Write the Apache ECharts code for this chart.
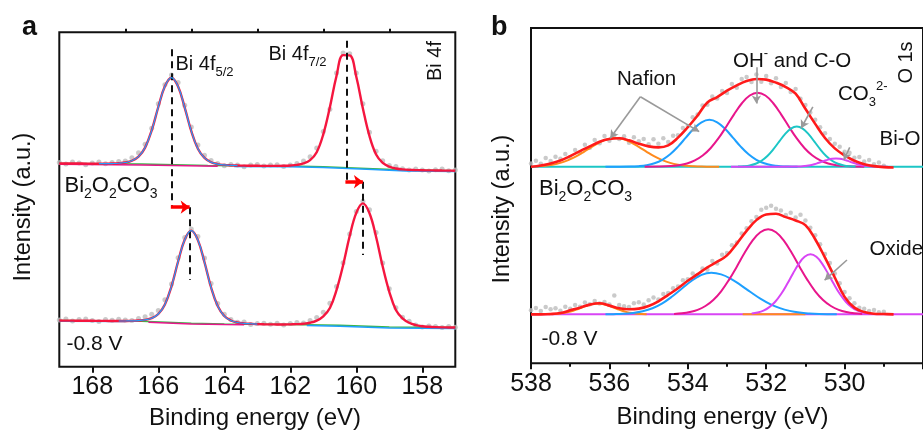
<!DOCTYPE html>
<html>
<head>
<meta charset="utf-8">
<script src="https://cdn.jsdelivr.net/npm/echarts@6/dist/echarts.min.js"></script>
<style>
  html, body { margin: 0; padding: 0; background: #fff; }
  #chart { width: 923px; height: 436px; }
</style>
</head>
<body>
<div id="chart"></div>
<script>
// ---------------- Panel a: Bi 4f ----------------
// binding energy grid (eV)
const bi4fEnergy = [169.0,168.8,168.6,168.4,168.2,168.0,167.8,167.6,167.4,167.2,167.0,166.8,166.6,166.4,166.2,166.0,165.8,165.6,165.4,165.2,165.0,164.8,164.6,164.4,164.2,164.0,163.8,163.6,163.4,163.2,163.0,162.8,162.6,162.4,162.2,162.0,161.8,161.6,161.4,161.2,161.0,160.8,160.6,160.4,160.2,160.0,159.8,159.6,159.4,159.2,159.0,158.8,158.6,158.4,158.2,158.0,157.8,157.6,157.4,157.2,157.0];
// fitted envelopes (offset intensity, a.u.)
const bi4fFitCarbonate = [60.8,60.78,60.77,60.75,60.74,60.72,60.70,60.72,60.75,60.84,61.06,61.58,62.82,65.52,70.68,77.66,83.86,86.42,83.78,77.50,70.44,65.20,62.43,61.15,60.60,60.34,60.22,60.16,60.12,60.10,60.08,60.06,60.05,60.06,60.09,60.17,60.34,60.78,61.78,64.14,69.50,77.62,86.94,93.16,93.08,86.70,77.22,68.94,63.46,60.94,59.82,59.26,59.01,58.86,58.79,58.73,58.71,58.68,58.65,58.63,58.60];
const bi4fFitReduced = [13.80,13.78,13.77,13.75,13.74,13.72,13.70,13.69,13.67,13.66,13.67,13.70,13.80,14.00,14.50,15.75,18.62,24.04,31.46,37.98,40.70,37.86,31.22,23.68,18.14,15.15,13.81,13.22,12.96,12.84,12.73,12.68,12.66,12.64,12.62,12.67,12.72,12.84,13.14,13.79,15.07,17.54,22.91,30.34,39.07,46.00,48.84,45.87,38.80,29.94,22.40,16.98,14.46,13.14,12.44,12.09,11.93,11.83,11.77,11.74,11.71];
// measured counts
const bi4fRawCarbonate = [61.1,60.6,61.2,60.9,60.4,60.9,61.2,60.7,61.1,61.4,61.5,62.5,64.0,66.5,71.3,78.6,84.3,87.2,85.0,78.2,71.7,66.3,63.2,61.7,60.8,60.1,60.5,60.3,59.8,60.3,60.5,60.0,60.3,60.4,59.9,60.3,60.8,61.5,62.8,65.4,70.3,77.0,87.8,93.8,93.6,87.8,78.6,70.1,64.4,61.6,60.2,59.9,59.2,58.8,59.1,58.8,58.5,58.9,59.1,58.6,58.8];
const bi4fRawReduced = [14.0,14.3,13.7,14.1,14.3,13.8,13.5,14.1,13.9,14.2,14.0,13.8,14.4,14.9,15.7,16.8,20.0,24.7,32.6,38.6,41.2,38.9,32.5,24.9,18.9,15.7,14.1,13.3,13.4,12.6,12.9,13.0,12.7,13.0,12.5,12.9,13.2,13.1,13.8,14.7,16.3,19.0,24.0,31.1,39.7,46.4,49.5,46.9,40.1,31.0,23.3,17.6,14.8,13.6,12.5,11.9,12.2,12.0,11.7,12.0,11.8];
// Shirley backgrounds
const bi4fBgCarbonateEnergy = [169, 166.5, 164.5, 162, 161, 159.5, 158.5, 157];
const bi4fBgCarbonate = [60.8, 60.6, 60.2, 60.0, 59.8, 59.2, 58.8, 58.6];
const bi4fBgReducedEnergy = [169, 166.5, 165, 164, 162, 160.5, 159, 157];
const bi4fBgReduced = [13.8, 13.6, 13.0, 12.8, 12.6, 12.4, 11.9, 11.7];
const bi4fEdgeTopPinkEnergy = [169, 166.5, 164.2];
const bi4fEdgeTopPink = [60.55, 60.3, 59.95];
const bi4fEdgeTopCyanEnergy = [163.7, 162, 161, 159.5, 158.5, 157];
const bi4fEdgeTopCyan = [59.9, 59.8, 59.55, 58.95, 58.55, 58.4];
const bi4fEdgeBotCyanEnergy = [169, 167];
const bi4fEdgeBotCyan = [13.6, 13.5];
const bi4fEdgeBotPinkEnergy = [166.3, 165, 164, 163.4];
const bi4fEdgeBotPink = [13.3, 12.8, 12.6, 12.55];
const bi4fEdgeBotCyan2Energy = [161.5, 160.5, 159, 157];
const bi4fEdgeBotCyan2 = [12.3, 12.1, 11.6, 11.4];
// peak position guides and shift arrows
const guideEnergy = [165.6, 165.05, 160.3, 159.8];
const guideFrom = [94.9, 47.7, 97.5, 55.3];
const guideTo = [47.7, 25.9, 55.3, 33.4];
const shiftStart = [165.62, 160.33];
const shiftEnd = [165.05, 159.8];
const shiftLevel = [47.7, 55.3];
const bi4fTickValues = [158, 160, 162, 164, 166, 168];
const bi4fMinorTickValues = [159, 161, 163, 165, 167];

// ---------------- Panel b: O 1s ----------------
const o1sEnergy = [538,537.75,537.5,537.25,537,536.75,536.5,536.25,536,535.75,535.5,535.25,535,534.75,534.5,534.25,534,533.75,533.5,533.25,533,532.75,532.5,532.25,532,531.75,531.5,531.25,531,530.75,530.5,530.25,530,529.75,529.5,529.25,529,528.75];
const o1sFitCarbonate = [58.6,59.0,59.6,60.5,61.8,63.3,64.7,66.1,66.9,67.1,66.5,65.5,64.7,64.4,65.0,67.3,70.4,73.9,77.8,79.4,81.3,82.9,84.2,84.8,84.6,83.7,82.4,80.4,75.9,71.4,67.2,64.1,62.0,60.4,59.4,58.8,58.5,58.4];
const o1sFitReduced = [14.6,14.6,14.7,15.0,15.8,16.6,17.5,17.9,17.2,16.4,16.1,16.3,17.1,18.5,20.4,22.4,24.6,26.6,28.6,30.3,32.2,35.7,39.5,42.7,44.4,44.6,43.6,42.6,41.2,37.0,31.5,25.6,19.8,16.6,15.3,14.8,14.7,14.6];
const o1sRawEnergy = [538,537.875,537.75,537.625,537.5,537.375,537.25,537.125,537,536.875,536.75,536.625,536.5,536.375,536.25,536.125,536,535.875,535.75,535.625,535.5,535.375,535.25,535.125,535,534.875,534.75,534.625,534.5,534.375,534.25,534.125,534,533.875,533.75,533.625,533.5,533.375,533.25,533.125,533,532.875,532.75,532.625,532.5,532.375,532.25,532.125,532,531.875,531.75,531.625,531.5,531.375,531.25,531.125,531,530.875,530.75,530.625,530.5,530.375,530.25,530.125,530,529.875,529.75,529.625,529.5,529.375,529.25,529.125,529];
const o1sRawCarbonate = [59.6,60.4,59.5,61.2,60.3,61.6,61.0,62.4,61.5,63.6,62.9,65.2,64.3,66.6,65.6,67.8,66.4,68.1,66.9,67.7,65.8,67.4,66.2,66.9,65.3,66.8,65.5,67.1,66.0,67.9,68.0,70.2,70.8,73.4,74.2,76.9,77.1,79.6,79.0,81.2,80.6,83.3,82.2,84.8,85.4,83.9,86.1,84.0,85.7,83.5,85.0,82.4,83.6,80.9,81.8,78.9,77.0,74.8,72.6,70.4,68.6,66.9,65.5,64.6,63.1,62.8,61.3,61.5,60.2,60.6,59.4,59.9,58.9];
const o1sRawReduced = [15.8,16.5,15.6,16.8,16.1,16.4,15.7,16.9,16.3,17.4,16.9,18.1,17.6,18.6,17.8,18.3,17.5,20.2,17.4,17.0,16.8,17.9,18.2,17.5,18.8,19.6,19.0,20.7,21.0,22.4,22.9,24.8,25.1,26.8,26.2,28.3,27.9,30.5,29.8,32.4,32.9,35.2,36.0,38.7,40.3,42.4,43.6,45.8,46.4,47.0,46.1,45.6,44.2,44.9,43.5,44.3,42.6,40.4,38.2,35.5,32.6,29.9,26.8,23.9,21.3,19.4,17.9,16.6,16.3,15.6,15.9,15.2,15.4];
const o1sBgEnergy = [538, 528];
const o1sBgCarbonate = [58.6, 58.6];
const o1sBgReduced = [14.6, 14.6];

// fitted components, Bi2O2CO3
const nafionAEnergy = [537.85,537.65,537.45,537.25,537.05,536.85,536.65,536.45,536.25,536.05,535.85,535.65,535.45,535.25,535.05,534.85,534.65,534.45,534.25,534.05,533.85,533.65,533.45,533.2];
const nafionA = [58.75,58.92,59.24,59.77,60.59,61.7,63.08,64.56,65.91,66.86,67.2,66.86,65.91,64.56,63.08,61.7,60.59,59.77,59.24,58.92,58.75,58.66,58.63,58.6];
const nafionBEnergy = [536.1,535.45,535.25,535.05,534.85,534.65,534.45,534.25,534.05,533.85,533.65,533.45,533.25,533.05,532.85,532.65,532.45,532.25,532.05,531.85,531.65,531.45,531.2];
const nafionB = [58.6,58.67,58.8,59.08,59.65,60.69,62.34,64.62,67.31,69.94,71.87,72.6,71.87,69.94,67.31,64.62,62.34,60.69,59.65,59.08,58.8,58.67,58.6];
const hydroxylEnergy = [535.1,534.42,534.22,534.02,533.82,533.62,533.42,533.22,533.02,532.82,532.62,532.42,532.22,532.02,531.82,531.62,531.42,531.22,531.02,530.82,530.62,530.42,530.22,530.02,529.5];
const hydroxyl = [58.6,58.81,59.09,59.59,60.5,61.96,64.15,67.06,70.56,74.25,77.56,79.86,80.7,79.86,77.56,74.25,70.56,67.06,64.15,61.96,60.5,59.59,59.09,58.81,58.6];
const carbonateEnergy = [532.72,532.57,532.42,532.27,532.12,531.97,531.82,531.67,531.52,531.37,531.22,531.07,530.92,530.77,530.62,530.47,530.32,530.17,530.02,529.87,529.72];
const carbonate = [58.67,58.78,59.02,59.52,60.42,61.84,63.81,66.1,68.34,69.99,70.6,69.99,68.34,66.1,63.81,61.84,60.42,59.52,59.02,58.78,58.67];
const biOEnergy = [532.9,531.22,531.12,531.02,530.92,530.82,530.72,530.62,530.52,530.42,530.32,530.22,530.12,530.02,529.92,529.82,529.72,529.62,529.52,529.42,529.32,529.22,528.9];
const biO = [58.6,58.66,58.71,58.82,58.98,59.23,59.56,59.95,60.37,60.75,61.01,61.1,61.01,60.75,60.37,59.95,59.56,59.23,58.98,58.82,58.71,58.66,58.6];

// fitted components, -0.8 V
const nafionCEnergy = [537.55,537.425,537.3,537.175,537.05,536.925,536.8,536.675,536.55,536.425,536.3,536.175,536.05,535.925,535.8,535.675,535.55,535.425,535.3,535.175,535.05];
const nafionC = [14.64,14.7,14.8,14.98,15.27,15.68,16.2,16.77,17.29,17.67,17.8,17.67,17.29,16.77,16.2,15.68,15.27,14.98,14.8,14.7,14.64];
const nafionDEnergy = [536.1,535.9,535.65,535.4,535.15,534.9,534.65,534.4,534.15,533.9,533.65,533.4,533.15,532.9,532.65,532.4,532.15,531.9,531.65,531.4,531.15,530.9,530.65,530.2];
const nafionD = [14.6,14.66,14.77,15.02,15.52,16.42,17.87,19.91,22.29,24.62,26.36,27.0,26.52,25.2,23.32,21.25,19.29,17.66,16.45,15.63,15.13,14.86,14.71,14.6];
const hydroxylREnergy = [534.35,534.15,533.95,533.75,533.55,533.35,533.15,532.95,532.75,532.55,532.35,532.15,531.95,531.75,531.55,531.35,531.15,530.95,530.75,530.55,530.35,530.15,529.95,529.75,529.55];
const hydroxylR = [14.74,14.92,15.29,15.95,17.09,18.89,21.48,24.89,28.82,32.94,36.57,39.09,40.0,39.09,36.57,32.94,28.82,24.89,21.48,18.89,17.09,15.95,15.29,14.92,14.74];
const oxideEnergy = [532.37,532.22,532.07,531.92,531.77,531.62,531.47,531.32,531.17,531.02,530.87,530.72,530.57,530.42,530.27,530.12,529.97,529.82,529.67,529.52,529.37];
const oxide = [14.83,15.14,15.72,16.75,18.36,20.65,23.55,26.72,29.65,31.75,32.5,31.75,29.65,26.72,23.55,20.65,18.36,16.75,15.72,15.14,14.83];
const flatOrangeEnergy = [532.6, 531.0];
const flatOrange = [14.6, 14.6];

// annotation pointers (energy, intensity) -> (energy, intensity)
const pointerFromE = [535.21, 535.21, 532.25, 530.81, 529.87, 529.94];
const pointerFromI = [79.5, 79.5, 88.3, 76.5, 64.4, 30.8];
const pointerToE = [535.98, 533.71, 532.25, 531.11, 530.02, 530.51];
const pointerToI = [67.1, 69.1, 77.5, 70.1, 60.6, 24.8];

// ---------------- rendering ----------------
const INK = '#111111';
const SANS = "'Liberation Sans', Arial, Helvetica, sans-serif";
const NARROW = "'Liberation Sans Narrow', 'Liberation Sans', Arial, sans-serif";
const RED = '#ff1a1a';
const RED_A = '#f5163f';
const BLUE = '#1ea0ff';
const MAGENTA = '#e8168c';
const CYAN = '#1cc6c6';
const PURPLE = '#d845f5';
const ORANGE = '#ff8a1c';
const GREEN = '#3db54a';
const DOT = '#bdbdbd';

function pairs(xs, ys) { return xs.map(function (x, i) { return [x, ys[i]]; }); }

function line(data, color, width, z, panel, smooth) {
  return {
    type: 'line', data: data, xAxisIndex: panel === 0 ? 0 : 2, yAxisIndex: panel,
    showSymbol: false, symbol: 'none', smooth: smooth === undefined ? 0.4 : smooth,
    lineStyle: { color: color, width: width }, z: z, silent: true,
    emphasis: { disabled: true }
  };
}
function dots(data, panel, size) {
  return {
    type: 'scatter', data: data, xAxisIndex: panel === 0 ? 0 : 2, yAxisIndex: panel,
    symbol: 'circle', symbolSize: size, itemStyle: { color: DOT }, z: 1, silent: true,
    emphasis: { disabled: true }
  };
}

const series = [];
// panel a
series.push(dots(pairs(bi4fEnergy, bi4fRawCarbonate), 0, 5));
series.push(dots(pairs(bi4fEnergy, bi4fRawReduced), 0, 5));
series.push(line(pairs(bi4fBgCarbonateEnergy, bi4fBgCarbonate), GREEN, 1.5, 2, 0, false));
series.push(line(pairs(bi4fBgReducedEnergy, bi4fBgReduced), GREEN, 1.5, 2, 0, false));
series.push(line(pairs(bi4fEdgeTopPinkEnergy, bi4fEdgeTopPink), MAGENTA, 1.5, 2, 0, false));
series.push(line(pairs(bi4fEdgeTopCyanEnergy, bi4fEdgeTopCyan), BLUE, 1.5, 2, 0, false));
series.push(line(pairs(bi4fEdgeBotCyanEnergy, bi4fEdgeBotCyan), BLUE, 1.5, 2, 0, false));
series.push(line(pairs(bi4fEdgeBotPinkEnergy, bi4fEdgeBotPink), MAGENTA, 1.5, 2, 0, false));
series.push(line(pairs(bi4fEdgeBotCyan2Energy, bi4fEdgeBotCyan2), BLUE, 1.5, 2, 0, false));

const topEnvelope = line(pairs(bi4fEnergy, bi4fFitCarbonate), RED_A, 2.4, 4, 0);
topEnvelope.markLine = {
  silent: true, animation: false, symbol: ['none', 'none'],
  label: { show: false }, emphasis: { disabled: true },
  lineStyle: { color: INK, width: 2, type: [7, 5] },
  data: guideEnergy.map(function (e, i) { return [{ coord: [e, guideFrom[i]] }, { coord: [e, guideTo[i]] }]; })
};
series.push(topEnvelope);
const botEnvelope = line(pairs(bi4fEnergy, bi4fFitReduced), RED_A, 2.4, 4, 0);
botEnvelope.markLine = {
  silent: true, animation: false, symbol: ['none', 'arrow'], symbolSize: [10, 9],
  label: { show: false }, emphasis: { disabled: true },
  lineStyle: { color: '#ff0000', width: 3.5, type: 'solid' },
  data: shiftStart.map(function (e, i) { return [{ coord: [e, shiftLevel[i]] }, { coord: [shiftEnd[i], shiftLevel[i]] }]; })
};
series.push(botEnvelope);
// Bi 4f5/2 component traces drawn over the envelope
series.push(line(pairs(bi4fEnergy.slice(6, 28), bi4fFitCarbonate.slice(6, 28)), BLUE, 1.2, 5, 0));
series.push(line(pairs(bi4fEnergy.slice(9, 31), bi4fFitReduced.slice(9, 31)), BLUE, 1.2, 5, 0));

// panel b
series.push(dots(pairs(o1sRawEnergy, o1sRawCarbonate), 1, 4.5));
series.push(dots(pairs(o1sRawEnergy, o1sRawReduced), 1, 4.5));
series.push(line(pairs(o1sBgEnergy, o1sBgCarbonate), CYAN, 2, 2, 1, false));
series.push(line(pairs(o1sBgEnergy, o1sBgReduced), PURPLE, 2, 2, 1, false));
series.push(line(pairs(flatOrangeEnergy, flatOrange), ORANGE, 2, 2, 1, false));
series.push(line(pairs(nafionAEnergy, nafionA), ORANGE, 2, 3, 1));
series.push(line(pairs(nafionBEnergy, nafionB), BLUE, 2, 3, 1));
series.push(line(pairs(hydroxylEnergy, hydroxyl), MAGENTA, 2, 3, 1));
series.push(line(pairs(carbonateEnergy, carbonate), CYAN, 2, 3, 1));
series.push(line(pairs(biOEnergy, biO), PURPLE, 2, 3, 1));
series.push(line(pairs(nafionCEnergy, nafionC), ORANGE, 2, 3, 1));
series.push(line(pairs(nafionDEnergy, nafionD), BLUE, 2, 3, 1));
series.push(line(pairs(hydroxylREnergy, hydroxylR), MAGENTA, 2, 3, 1));
series.push(line(pairs(oxideEnergy, oxide), PURPLE, 2, 3, 1));
const o1sTop = line(pairs(o1sEnergy, o1sFitCarbonate), RED, 2.6, 4, 1);
o1sTop.markLine = {
  silent: true, animation: false, symbol: ['none', 'arrow'], symbolSize: [7, 8],
  label: { show: false }, emphasis: { disabled: true },
  lineStyle: { color: '#9a9a9a', width: 1.6, type: 'solid' },
  data: pointerFromE.map(function (e, i) {
    return [{ coord: [e, pointerFromI[i]] }, { coord: [pointerToE[i], pointerToI[i]] }];
  })
};
series.push(o1sTop);
series.push(line(pairs(o1sEnergy, o1sFitReduced), RED, 2.6, 4, 1));

// text annotations
function txt(x, y, text, size, opts) {
  opts = opts || {};
  const sub = Math.round(size * 0.65);
  return {
    type: 'text', x: x, y: y, rotation: opts.rotation || 0, silent: true, z: 100,
    style: {
      text: text, fill: INK,
      font: (opts.bold ? 'bold ' : '') + size + 'px ' + SANS,
      align: opts.align || 'left', verticalAlign: 'middle',
      textAlign: opts.align || 'left', textVerticalAlign: 'middle',
      rich: {
        m: { fontSize: size, fontFamily: SANS, lineHeight: size + 8, fill: INK },
        s: { fontSize: sub, fontFamily: SANS, lineHeight: sub, verticalAlign: 'bottom', fill: INK },
        p: { fontSize: sub, fontFamily: SANS, lineHeight: sub, verticalAlign: 'top', fill: INK }
      }
    }
  };
}

const graphics = [
  txt(22, 27.5, 'a', 27, { bold: true }),
  txt(491, 27.5, 'b', 27, { bold: true }),
  txt(175.5, 64.7, '{m|Bi 4f}{s|5/2}', 20),
  txt(268.5, 54.7, '{m|Bi 4f}{s|7/2}', 20),
  txt(435.5, 61, 'Bi 4f', 20, { align: 'center', rotation: Math.PI / 2 }),
  txt(64.5, 186, '{m|Bi}{s|2}{m|O}{s|2}{m|CO}{s|3}', 22),
  txt(66.5, 344.6, '-0.8 V', 21),
  txt(539, 189.3, '{m|Bi}{s|2}{m|O}{s|2}{m|CO}{s|3}', 22),
  txt(541.5, 339.3, '-0.8 V', 21),
  txt(617, 79.5, 'Nafion', 20.5),
  txt(733, 61, '{m|OH}{p|-}{m| and C-O}', 20.5),
  txt(838, 94.5, '{m|CO}{s|3}{p|2-}', 20.5),
  txt(879.5, 139.5, 'Bi-O', 20.5),
  txt(869.5, 249.5, 'Oxide', 20.5),
  txt(906, 62.5, 'O 1s', 20, { align: 'center', rotation: Math.PI / 2 }),
  txt(24, 207, 'Intensity (a.u.)', 23.5, { align: 'center', rotation: Math.PI / 2 }),
  txt(503, 209, 'Intensity (a.u.)', 23.5, { align: 'center', rotation: Math.PI / 2 }),
  txt(255, 418.4, 'Binding energy (eV)', 24, { align: 'center' }),
  txt(722.5, 417.7, 'Binding energy (eV)', 24, { align: 'center' })
];

const tickLabel = { fontSize: 25, fontFamily: NARROW, color: INK };
const option = {
  animation: false,
  backgroundColor: '#ffffff',
  grid: [
    { left: 59.3, top: 32.3, width: 396, height: 334.4, show: true, borderColor: INK, borderWidth: 2, backgroundColor: 'transparent' },
    { left: 531, top: 28, width: 441, height: 335.3, show: true, borderColor: INK, borderWidth: 2, backgroundColor: 'transparent' }
  ],
  xAxis: [
    {
      gridIndex: 0, type: 'value', min: 157, max: 169, inverse: true,
      axisLine: { show: false }, splitLine: { show: false },
      axisTick: { show: true, customValues: bi4fTickValues, length: 6, lineStyle: { color: INK, width: 2 } },
      axisLabel: Object.assign({ show: true, customValues: bi4fTickValues, margin: 8 }, tickLabel)
    },
    {
      gridIndex: 0, type: 'value', min: 157, max: 169, inverse: true,
      axisLine: { show: false }, splitLine: { show: false },
      axisTick: { show: true, customValues: bi4fMinorTickValues, length: 3.5, lineStyle: { color: INK, width: 2 } },
      axisLabel: { show: false }
    },
    {
      gridIndex: 1, type: 'value', min: 528, max: 538, interval: 2, inverse: true,
      axisLine: { show: false }, splitLine: { show: false }, minorSplitLine: { show: false },
      axisTick: { show: true, length: 6, lineStyle: { color: INK, width: 2 } },
      minorTick: { show: true, splitNumber: 2, length: 3.5, lineStyle: { color: INK, width: 2 } },
      axisLabel: Object.assign({ show: true, margin: 8, showMinLabel: false }, tickLabel)
    }
  ],
  yAxis: [
    { gridIndex: 0, type: 'value', min: 0, max: 100, show: false },
    { gridIndex: 1, type: 'value', min: 0, max: 100, show: false }
  ],
  graphic: graphics,
  series: series
};

const chart = echarts.init(document.getElementById('chart'), null, { renderer: 'canvas' });
chart.setOption(option);
</script>
</body>
</html>
